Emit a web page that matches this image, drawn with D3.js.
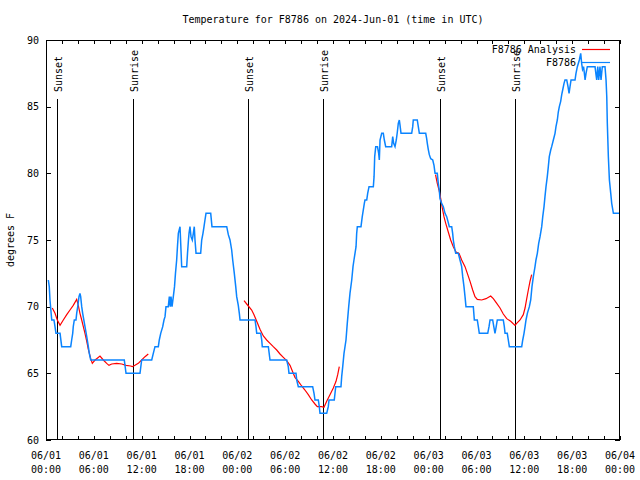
<!DOCTYPE html>
<html>
<head>
<meta charset="utf-8">
<script src="https://cdn.jsdelivr.net/npm/d3@7"></script>
<style>
  html, body { margin: 0; padding: 0; background: #fff; }
  svg text { font-family: "DejaVu Sans Mono", "Liberation Mono", monospace; font-size: 10px; fill: #000; }
</style>
</head>
<body>
<svg id="chart" width="640" height="480"></svg>
<script>
// ---------------- data ----------------
const titleText = "Temperature for F8786 on 2024-Jun-01 (time in UTC)";
const yLabel = "degrees F";
const yTicks = [60, 65, 70, 75, 80, 85, 90];
const startUtc = Date.UTC(2024, 5, 1, 0, 0);   // 06/01 00:00 UTC
const domainHours = [0, 72];

// observations (hours since start, deg F)
const obsHours = [0.29,0.41,0.50,0.72,1.00,1.13,1.25,1.76,1.97,3.10,3.22,3.35,3.42,3.55,3.76,3.85,3.98,4.14,4.26,4.35,4.48,4.60,4.89,5.11,5.31,5.43,5.61,9.82,10.04,11.79,12.00,13.26,13.46,13.67,14.09,14.21,14.39,14.64,14.80,14.93,15.05,15.34,15.47,15.59,15.68,15.81,15.97,16.12,16.24,16.39,16.49,16.60,16.81,17.02,17.65,17.75,17.87,17.94,18.06,18.19,18.35,18.48,18.60,18.69,18.82,19.40,19.53,19.69,19.82,19.94,20.07,20.66,20.82,22.67,22.87,23.08,23.29,23.42,23.62,23.80,23.92,24.12,24.25,24.34,26.22,26.34,26.43,26.93,27.06,27.13,27.89,28.10,30.19,30.39,30.48,31.36,31.45,31.65,33.45,33.62,33.74,34.16,34.28,34.37,35.21,35.41,35.50,36.16,36.34,37.00,37.09,37.22,37.38,37.63,37.79,37.97,38.13,38.35,38.51,38.63,38.89,38.97,39.05,39.51,39.67,39.93,40.01,40.23,40.35,40.52,41.06,41.15,41.23,41.36,41.58,41.73,41.81,41.90,42.11,42.31,42.44,42.61,43.36,43.49,43.61,43.78,43.94,44.07,44.19,44.32,44.41,44.53,45.87,46.00,46.07,46.57,46.70,46.83,47.63,47.75,47.83,47.95,48.08,48.26,48.51,48.67,48.80,49.08,49.21,49.33,49.42,49.63,49.84,50.05,50.26,50.42,50.59,50.89,51.01,51.09,51.22,51.39,51.72,51.93,52.14,52.27,52.43,52.56,52.68,53.60,53.73,54.10,54.23,54.35,55.41,55.57,55.70,56.03,56.17,56.32,56.47,56.61,57.36,57.49,57.58,57.86,57.99,58.12,59.67,59.80,59.96,60.09,60.21,60.38,60.63,60.80,60.96,61.13,61.34,61.46,61.63,61.80,61.97,62.18,62.31,62.47,62.59,62.72,62.88,63.01,63.13,63.31,63.43,63.64,63.85,63.97,64.14,64.26,64.39,64.56,64.69,64.81,64.98,65.10,65.32,65.48,65.61,65.73,65.86,66.36,66.48,66.65,66.90,67.07,67.20,67.30,67.43,67.53,67.62,67.74,67.90,68.87,68.97,69.08,69.21,69.33,69.49,69.62,69.78,70.12,70.25,70.34,70.41,70.54,70.67,70.84,70.96,71.17,71.95];
const obsTemps = [72,71.5,70.5,69,69,68.5,68,68,67,67,67.5,68,68.5,69,69,69.5,70,70.75,71,70.75,70,69.5,68.5,67.75,67,66.5,66,66,65,65,66,66,66.5,67,67,67.5,68,68.5,69,69.25,70,70,70.75,70,70.75,70,70.75,71.5,72.5,73.5,74.5,75.5,76,73,73,74,75,75.5,76,75.25,75,75.5,76,75,74,74,75,75.5,76,76.5,77,77,76,76,75.4,75,74.25,73.5,72.5,71.5,70.75,70.1,69.5,69,69,68.5,68,68,67.5,67,67,66,66,65.5,65,65,64.5,64,64,63.5,63,63,62.5,62,62,62.5,63,63,64,64,64.75,65.5,66.5,67.5,68.75,70,71,72,73,73.5,74.5,75.5,76,76,76.75,77.75,78,78,78.5,79,79,79.75,81.25,82,82,81.5,81,82.5,83,83,82.5,82,82,82.75,82.25,82,82.5,83.1,83.75,84,83.6,83,83,83.5,84,84,83.5,83,83,82.6,82.25,81.8,81.4,81.1,81,80.6,80,80,79.25,78.75,78.1,77.75,77.5,77,76.75,76.4,76,76,75.5,75,74.5,74,74,73.5,73,72.25,71.5,70.75,70,70,69,69,68.5,68,68,68.5,69,69,68.5,68,68.5,69,69,68.5,68,68,67.5,67,67,67.5,68,68.5,69,69.5,70,70.5,71.5,72.25,73,73.5,74,74.75,75.25,76,76.75,77.5,78.25,79,79.75,80.5,81.25,81.75,82,82.5,83,83.5,84,84.6,85,85.4,85.9,86.25,86.75,87,87,86.5,86,86.5,87,87,87.5,88,88.5,89,88.2,87.8,88,87.5,87,87.5,88,88,87.5,87,88,87,88,87,88,88,87,85.75,83.75,81.25,79.5,78.5,77.75,77,77];

// analysis runs (hours since start, deg F)
const anaHoursA = [0.79,1.13,1.42,1.76,2.17,2.60,3.01,3.42,3.85,4.05,4.26,4.48,4.68,4.89,5.11,5.31,5.61,5.81,6.15,6.36,6.77,7.19,7.61,7.90,8.24,8.87,9.50,10.04,10.62,10.83,11.16,11.58,12.00,12.42,12.83];
const anaTempsA = [69.9,69.5,69,68.6,69,69.4,69.75,70.1,70.55,70.1,69.5,69,68.5,68,67.4,66.8,66.1,65.75,66,66.1,66.3,66,65.75,65.6,65.7,65.75,65.7,65.6,65.55,65.5,65.6,65.75,66,66.25,66.45];
const anaHoursB = [24.84,25.38,25.80,26.09,26.43,26.84,27.26,27.68,28.10,28.51,28.94,29.35,29.77,30.19,30.61,30.95,31.23,31.65,32.07,32.48,32.90,33.33,33.74,34.03,34.58,34.87,35.21,35.62,36.04,36.38,36.59,36.79];
const anaTempsB = [70.45,70.05,69.75,69.4,68.9,68.3,67.8,67.5,67.25,67,66.75,66.45,66.2,65.95,65.6,65.1,64.7,64.4,64.05,63.75,63.4,63,62.7,62.5,62.5,62.45,62.9,63.4,63.9,64.4,64.9,65.5];
const anaHoursC = [48.86,49.08,49.30,49.51,49.71,49.92,50.14,50.46,50.76,51.09,51.43,51.81,52.14,52.56,52.85,53.19,53.52,53.81,54.10,54.65,55.19,55.78,56.11,56.54,56.95,57.36,57.79,58.29,58.83,59.04,59.46,59.87,60.09,60.30,60.50,60.71,60.92];
const anaTempsC = [79.9,79.25,78.75,78.1,77.4,76.75,76.25,75.6,75,74.5,74.1,74,73.5,73,72.5,71.9,71.25,70.75,70.55,70.5,70.6,70.8,70.6,70.25,69.9,69.45,69.1,68.9,68.6,68.75,69,69.4,69.9,70.6,71.25,71.9,72.4];

// sunset / sunrise markers
const eventHours = [1.33, 10.87, 25.37, 34.8, 49.4, 58.85];
const eventLabels = ["Sunset", "Sunrise", "Sunset", "Sunrise", "Sunset", "Sunrise"];

const seriesNames = ["F8786 Analysis", "F8786"];
const seriesColors = ["#ff0000", "#0a84ff"];

// ---------------- chart ----------------
const svg = d3.select("#chart");
const pLeft = 46, pRight = 620, pTop = 40, pBottom = 440;
const toDate = h => new Date(startUtc + h * 3600e3);

const x = d3.scaleUtc().domain(domainHours.map(toDate)).range([pLeft, pRight]);
const y = d3.scaleLinear().domain([60, 90]).range([pBottom, pTop]);

// title
svg.append("text").attr("x", (pLeft + pRight) / 2).attr("y", 23)
  .attr("text-anchor", "middle").text(titleText);

// y label
svg.append("text").attr("transform", `translate(14,${(pTop + pBottom) / 2}) rotate(-90)`)
  .attr("text-anchor", "middle").text(yLabel);

// ticks
const tickDates = d3.utcHour.every(2).range(toDate(0), toDate(72.01));
const g = svg.append("g");
g.selectAll(".xtb").data(tickDates).join("line")
  .attr("x1", d => Math.round(x(d)) + 0.5).attr("x2", d => Math.round(x(d)) + 0.5)
  .attr("y1", pBottom).attr("y2", pBottom - 4).attr("stroke", "#000");
g.selectAll(".xtt").data(tickDates).join("line")
  .attr("x1", d => Math.round(x(d)) + 0.5).attr("x2", d => Math.round(x(d)) + 0.5)
  .attr("y1", pTop).attr("y2", pTop + 4).attr("stroke", "#000");
g.selectAll(".ytl").data(yTicks).join("line")
  .attr("x1", pLeft).attr("x2", pLeft + 5)
  .attr("y1", d => Math.round(y(d)) + 0.5).attr("y2", d => Math.round(y(d)) + 0.5).attr("stroke", "#000");
g.selectAll(".ytr").data(yTicks).join("line")
  .attr("x1", pRight).attr("x2", pRight - 5)
  .attr("y1", d => Math.round(y(d)) + 0.5).attr("y2", d => Math.round(y(d)) + 0.5).attr("stroke", "#000");

// y tick labels
svg.selectAll(".yl").data(yTicks).join("text")
  .attr("x", pLeft - 7).attr("y", d => y(d)).attr("dy", "0.35em")
  .attr("text-anchor", "end").text(d => d);

// x tick labels every 6 hours
const labelDates = d3.utcHour.every(6).range(toDate(0), toDate(72.01));
const fmtD = d3.utcFormat("%m/%d"), fmtT = d3.utcFormat("%H:%M");
const xl = svg.selectAll(".xl").data(labelDates).join("g")
  .attr("transform", d => `translate(${x(d)},0)`);
xl.append("text").attr("y", 459).attr("text-anchor", "middle").text(d => fmtD(d));
xl.append("text").attr("y", 473).attr("text-anchor", "middle").text(d => fmtT(d));

// sunrise / sunset lines
const ev = svg.selectAll(".ev").data(eventHours.map((h, i) => ({h, label: eventLabels[i]}))).join("g");
ev.append("line")
  .attr("x1", d => Math.round(x(toDate(d.h))) + 0.5).attr("x2", d => Math.round(x(toDate(d.h))) + 0.5)
  .attr("y1", 99).attr("y2", pBottom).attr("stroke", "#000");
ev.append("text")
  .attr("transform", d => `translate(${Math.round(x(toDate(d.h))) + 1},92) rotate(-90)`)
  .attr("dy", "0.35em").attr("text-anchor", "start").text(d => d.label);

// lines
const line = d3.line().x(d => x(toDate(d[0]))).y(d => y(d[1]));
[[anaHoursA, anaTempsA], [anaHoursB, anaTempsB], [anaHoursC, anaTempsC]].forEach(([hs, ts]) => {
  svg.append("path").datum(hs.map((h, i) => [h, ts[i]]))
    .attr("fill", "none").attr("stroke", seriesColors[0]).attr("stroke-width", 1.2).attr("d", line);
});
svg.append("path").datum(obsHours.map((h, i) => [h, obsTemps[i]]))
  .attr("fill", "none").attr("stroke", seriesColors[1]).attr("stroke-width", 1.5)
  .attr("stroke-linejoin", "miter").attr("d", line);

// frame
svg.append("rect").attr("x", pLeft + 0.5).attr("y", pTop + 0.5)
  .attr("width", pRight - pLeft - 1).attr("height", pBottom - pTop - 1)
  .attr("fill", "none").attr("stroke", "#000");

// legend
const lg = svg.selectAll(".lg").data(seriesNames).join("g")
  .attr("transform", (d, i) => `translate(0,${49 + i * 13})`);
lg.append("text").attr("x", 576).attr("dy", "0.35em").attr("text-anchor", "end").text(d => d);
lg.append("line").attr("x1", 582).attr("x2", 610).attr("y1", 0.5).attr("y2", 0.5)
  .attr("stroke", (d, i) => seriesColors[i]).attr("stroke-width", 1.2);
</script>
</body>
</html>
